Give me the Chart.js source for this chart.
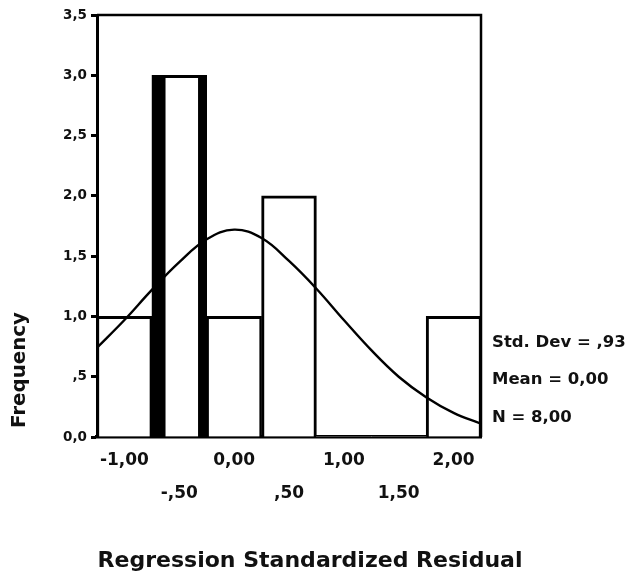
<!DOCTYPE html>
<html>
<head>
<meta charset="utf-8">
<script src="https://cdn.jsdelivr.net/npm/chart.js@4/dist/chart.umd.min.js"></script>
<style>
  html, body { margin: 0; padding: 0; background: #fff; }
  #wrap { width: 629px; height: 583px; position: relative; }
</style>
</head>
<body>
<div id="wrap"><canvas id="c" width="629" height="583"></canvas></div>
<script>
// ---- data ----
const binCenters   = [-1.0, -0.5, 0.0, 0.5, 1.0, 1.5, 2.0];
const frequencies  = [1, 3, 1, 2, 0, 0, 1];
const xTickLabels  = ['-1,00', '-,50', '0,00', ',50', '1,00', '1,50', '2,00'];
const yTickValues  = [0, 0.5, 1, 1.5, 2, 2.5, 3, 3.5];
const yTickLabels  = ['0,0', ',5', '1,0', '1,5', '2,0', '2,5', '3,0', '3,5'];
const curveX       = [-1.25, -1.0, -0.75, -0.5, -0.25, 0.0, 0.25, 0.5, 0.75, 1.0, 1.25, 1.5, 1.75, 2.0, 2.25];
const curveY       = [0.74, 0.97, 1.22, 1.45, 1.64, 1.72, 1.65, 1.46, 1.23, 0.97, 0.72, 0.50, 0.33, 0.20, 0.11];
const statLines    = ['Std. Dev = ,93', 'Mean = 0,00', 'N = 8,00'];
const xAxisTitle   = 'Regression Standardized Residual';
const yAxisTitle   = 'Frequency';

const FONT = '"DejaVu Sans", "Liberation Sans", Arial, sans-serif';

function stretchedText(ctx, text, x, y, font, targetWidth, align) {
  ctx.save();
  ctx.font = font;
  const w = ctx.measureText(text).width;
  const s = targetWidth ? targetWidth / w : 1;
  ctx.translate(x, y);
  ctx.scale(s, 1);
  ctx.textAlign = align || 'left';
  ctx.fillText(text, 0, 0);
  ctx.restore();
}

const decorPlugin = {
  id: 'decor',
  beforeDraw(chart) {
    const ctx = chart.ctx;
    ctx.save();
    ctx.fillStyle = '#fff';
    ctx.fillRect(0, 0, chart.width, chart.height);
    ctx.restore();
  },
  afterDraw(chart) {
    const ctx = chart.ctx;
    const a = chart.chartArea;
    ctx.save();
    // frame
    ctx.strokeStyle = '#000';
    ctx.lineWidth = 2.5;
    ctx.beginPath();
    ctx.moveTo(a.left, a.top);
    ctx.lineTo(a.right, a.top);
    ctx.lineTo(a.right, a.bottom);
    ctx.stroke();
    ctx.fillStyle = '#111';
    // stats block
    const statOffsets = [94, 57, 19];
    statLines.forEach((t, i) => {
      ctx.textBaseline = 'middle';
      stretchedText(ctx, t, a.right + 11, a.bottom - statOffsets[i], 'bold 16.5px ' + FONT, null, 'left');
    });
    // x title
    ctx.textBaseline = 'alphabetic';
    stretchedText(ctx, xAxisTitle, 310, a.bottom + 130, 'bold 21px ' + FONT, 425, 'center');
    // y title (rotated)
    ctx.save();
    ctx.translate(25, a.bottom - 67);
    ctx.rotate(-Math.PI / 2);
    ctx.font = 'bold 20px ' + FONT;
    const w = ctx.measureText(yAxisTitle).width;
    ctx.scale(116 / w, 1);
    ctx.textAlign = 'center';
    ctx.textBaseline = 'alphabetic';
    ctx.fillText(yAxisTitle, 0, 0);
    ctx.restore();
    ctx.restore();
  }
};

Chart.defaults.color = '#111';
Chart.defaults.font.family = FONT;
Chart.defaults.font.weight = 'bold';

new Chart(document.getElementById('c'), {
  data: {
    datasets: [
      {
        type: 'line',
        label: 'Normal curve',
        data: curveX.map((x, i) => ({ x: x, y: curveY[i] })),
        borderColor: '#000',
        borderWidth: 2.4,
        pointRadius: 0,
        tension: 0.4,
        fill: false,
        order: 0
      },
      {
        type: 'bar',
        label: 'Frequency',
        data: binCenters.map((x, i) => ({ x: x, y: frequencies[i] })),
        backgroundColor: '#fff',
        borderColor: '#000',
        borderWidth: [
          { top: 3, left: 2.5, right: 2.5, bottom: 0 },
          { top: 3, left: 14, right: 9, bottom: 0 },
          { top: 3, left: 2.5, right: 2.5, bottom: 0 },
          { top: 3, left: 3, right: 3, bottom: 0 },
          0, 0,
          { top: 3, left: 3, right: 2.5, bottom: 0 }
        ],
        borderSkipped: false,
        barPercentage: 1.0,
        categoryPercentage: 1.0,
        grouped: false,
        order: 1
      }
    ]
  },
  options: {
    responsive: false,
    animation: false,
    devicePixelRatio: 1,
    layout: { padding: { left: 0, top: 15, right: 148, bottom: 0 } },
    plugins: { legend: { display: false }, tooltip: { enabled: false }, title: { display: false } },
    scales: {
      x: {
        type: 'linear',
        min: -1.25,
        max: 2.25,
        offset: false,
        afterBuildTicks: (axis) => { axis.ticks = binCenters.map(v => ({ value: v })); },
        afterFit: (scale) => { scale.height = 146; },
        grid: { display: true, drawOnChartArea: false, drawTicks: false },
        border: { display: true, color: '#000', width: 3.5 },
        ticks: {
          autoSkip: false,
          maxRotation: 0,
          minRotation: 0,
          padding: 7,
          font: { size: 17, lineHeight: 1.94, weight: 'bold' },
          color: '#111',
          callback: (v, i) => (i % 2 === 0 ? xTickLabels[i] : ['', xTickLabels[i]])
        }
      },
      y: {
        type: 'linear',
        min: 0,
        max: 3.5,
        afterBuildTicks: (axis) => { axis.ticks = yTickValues.map(v => ({ value: v })); },
        afterFit: (scale) => { scale.width = 97; },
        grid: { display: true, drawOnChartArea: false, drawTicks: true, tickLength: 6, tickWidth: 3, tickColor: '#000' },
        border: { display: true, color: '#000', width: 3 },
        ticks: {
          padding: 4,
          font: { size: 13.5, weight: 'bold' },
          color: '#111',
          callback: (v, i) => yTickLabels[i]
        }
      }
    }
  },
  plugins: [decorPlugin]
});
</script>
</body>
</html>
